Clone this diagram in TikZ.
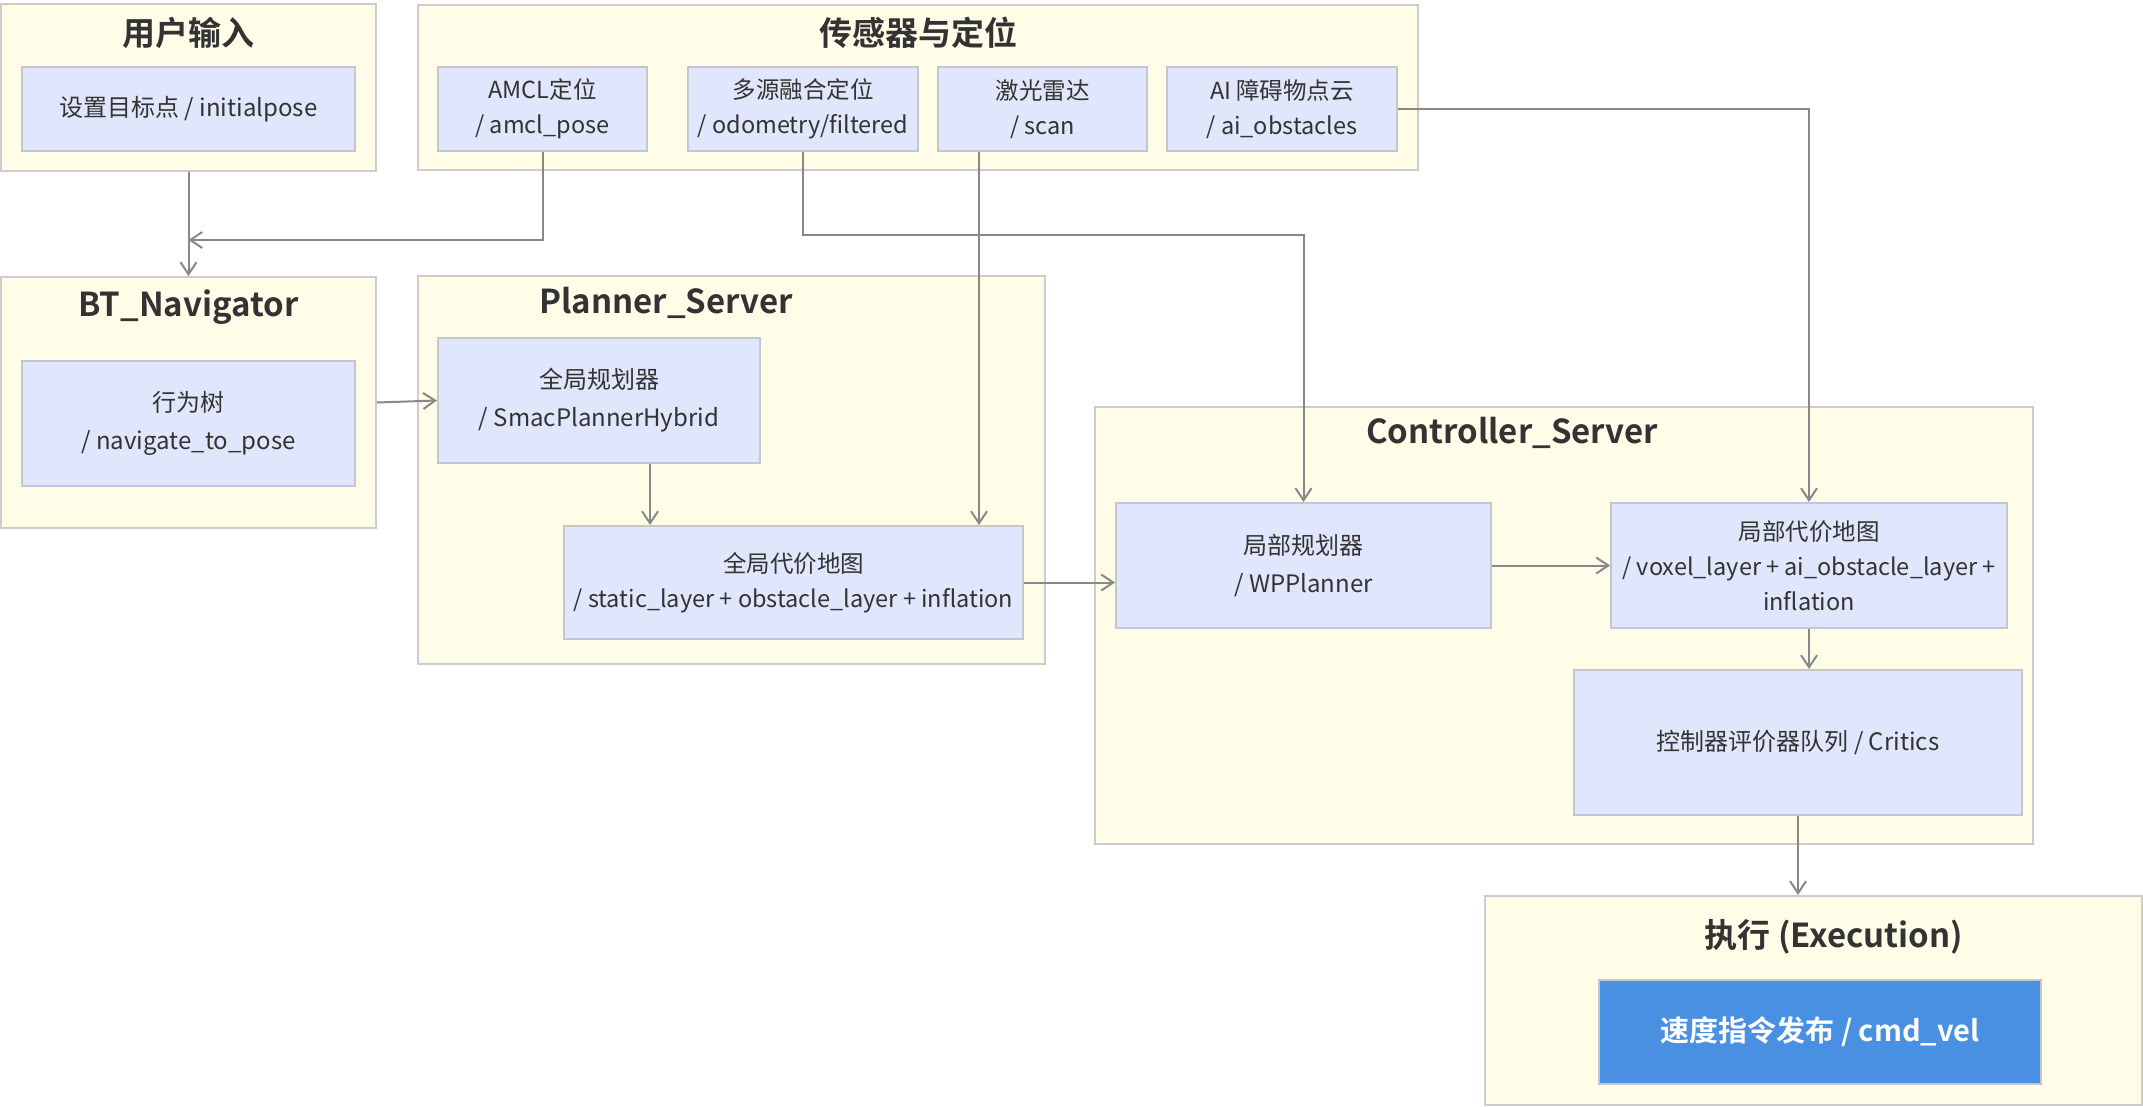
\documentclass[tikz,border=0pt]{standalone}
\usepackage{fontspec}
\setmainfont{Noto Sans CJK SC}[BoldFont={Noto Sans CJK SC Bold}]
\usepackage{xcolor}
\usepackage{tikz}
\usetikzlibrary{arrows.meta,positioning,calc}
\definecolor{groupfill}{RGB}{255,252,232}
\definecolor{groupline}{RGB}{204,204,204}
\definecolor{topicfill}{RGB}{224,230,252}
\definecolor{topicline}{RGB}{196,198,208}
\definecolor{execblue}{RGB}{74,144,226}
\definecolor{textgray}{RGB}{51,51,51}
\definecolor{arrowgray}{RGB}{136,136,136}

\begin{document}
\begin{tikzpicture}[x=1pt, y=-1pt,
    group/.style={rectangle, draw=groupline, line width=2pt, fill=groupfill, inner sep=0pt},
    grouptitle/.style={font=\fontsize{33}{38}\selectfont\bfseries, text=textgray},
    topic/.style={rectangle, draw=topicline, line width=2pt, fill=topicfill, inner sep=0pt,
        align=center, text=textgray, font=\fontsize{24}{38}\selectfont},
    tight/.style={font=\fontsize{23.5}{35}\selectfont},
    cmdbox/.style={rectangle, draw=topicline, line width=1.5pt, fill=execblue, inner sep=0pt,
        text=white, font=\fontsize{29}{33}\selectfont\bfseries},
    arr/.style={-{Straight Barb[length=12pt,width=16pt]}, line width=2pt, draw=arrowgray}
]
\useasboundingbox (0,0) rectangle (2143,1106);

% groups
\node[group, minimum width=375pt, minimum height=167pt] (inpbox) at (188.5,87.5) {};
\node[group, minimum width=1000pt, minimum height=165pt] (sensbox) at (918,87.5) {};
\node[group, minimum width=375pt, minimum height=251pt] (btbox) at (188.5,402.5) {};
\node[group, minimum width=627pt, minimum height=388pt] (plbox) at (731.5,470) {};
\node[group, minimum width=938pt, minimum height=437pt] (ctbox) at (1564,625.5) {};
\node[group, minimum width=657pt, minimum height=209pt] (exbox) at (1813.5,1000.5) {};

\node[grouptitle] (inptitle) at (188.5,33) {用户输入};
\node[grouptitle] (senstitle) at (918,33) {传感器与定位};
\node[grouptitle] (bttitle) at (188.5,307) {BT\_Navigator};
\node[grouptitle] (pltitle) at (666,303) {Planner\_Server};
\node[grouptitle] (cttitle) at (1512,433) {Controller\_Server};
\node[grouptitle] (extitle) at (1834,937) {执行 (Execution)};

% topics
\node[topic, minimum width=333pt, minimum height=84pt] (goal) at (188.5,109) {设置目标点 / initialpose};
\node[topic, tight, minimum width=209pt, minimum height=84pt] (amcl) at (542.5,109) {AMCL定位\\/ amcl\_pose};
\node[topic, tight, minimum width=230pt, minimum height=84pt] (odom) at (803,109) {多源融合定位\\/ odometry/filtered};
\node[topic, tight, minimum width=209pt, minimum height=84pt] (scan) at (1042.5,109) {激光雷达\\/ scan};
\node[topic, tight, minimum width=230pt, minimum height=84pt] (aiobs) at (1282,109) {AI 障碍物点云\\/ ai\_obstacles};
\node[topic, minimum width=333pt, minimum height=125pt] (bttree) at (188.5,423.5) {行为树\\/ navigate\_to\_pose};
\node[topic, minimum width=322pt, minimum height=125pt] (gplan) at (599,400.5) {全局规划器\\/ SmacPlannerHybrid};
\node[topic, tight, minimum width=459pt, minimum height=113pt] (gcost) at (793.5,582.5) {全局代价地图\\/ static\_layer + obstacle\_layer + inflation};
\node[topic, minimum width=375pt, minimum height=125pt] (lplan) at (1303.5,565.5) {局部规划器\\/ WPPlanner};
\node[topic, tight, minimum width=396pt, minimum height=125pt] (lcost) at (1809,565.5) {局部代价地图\\/ voxel\_layer + ai\_obstacle\_layer +\\inflation};
\node[topic, minimum width=448pt, minimum height=145pt] (crit) at (1798,742.5) {控制器评价器队列 / Critics};
\node[cmdbox, minimum width=442pt, minimum height=104pt] (cmdv) at (1820,1032) {速度指令发布 / cmd\_vel};

% connectors
\coordinate (amclin) at (188.5,240);
\coordinate (odomturn) at (803,235);
\coordinate (scanx) at (979,0);
\coordinate (gplanx) at (650,0);

\draw[arr] (inpbox.south) -- (btbox.north);
\draw[arr] (amcl.south) |- (amclin);
\draw[arr] (odom.south) -- (odomturn) -| (lplan.north);
\draw[arr] (scan.south -| scanx) -- (gcost.north -| scanx);
\draw[arr] (aiobs.east) -| (lcost.north);
\draw[arr] (btbox.east) -- (gplan.west);
\draw[arr] (gplan.south -| gplanx) -- (gcost.north -| gplanx);
\draw[arr] (gcost.east) -- (gcost.east -| lplan.west);
\draw[arr] (lplan.east) -- (lcost.west);
\draw[arr] (lcost.south) -- (lcost.south |- crit.north);
\draw[arr] (crit.south) -- (crit.south |- exbox.north);
\end{tikzpicture}
\end{document}
